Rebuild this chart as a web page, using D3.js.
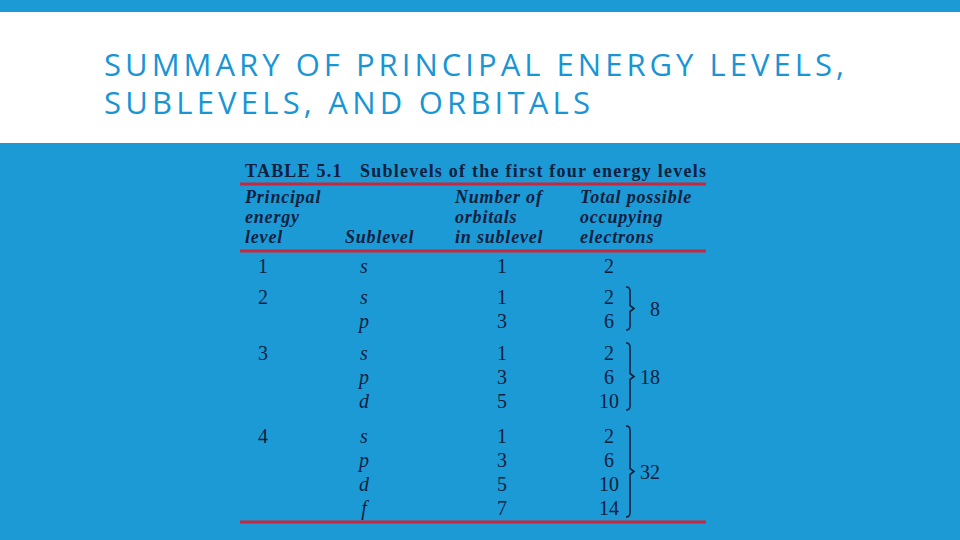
<!DOCTYPE html>
<html><head><meta charset="utf-8">
<script src="https://cdn.jsdelivr.net/npm/d3@7"></script>
<style>body{margin:0;background:#1b9ad6}</style>
</head><body>
<svg id="slide" width="960" height="540"></svg>
<script>
var levels = [1, 2, 3, 4],
	sublevels = [["s"], ["s", "p"], ["s", "p", "d"], ["s", "p", "d", "f"]],
	orbitals = [[1], [1, 3], [1, 3, 5], [1, 3, 5, 7]],
	electrons = [[2], [2, 6], [2, 6, 10], [2, 6, 10, 14]],
	totals = [null, 8, 18, 32],
	groupTop = [273, 304, 360, 443];

var svg = d3.select("#slide"),
	ink = "#12203f",
	serif = "'Liberation Serif', 'DejaVu Serif', serif";

svg.append("rect").attr("width", 960).attr("height", 540).attr("fill", "#1b9ad6");
svg.append("rect").attr("y", 12).attr("width", 960).attr("height", 131).attr("fill", "#fff");

var titleLen = [740, 486];
svg.selectAll(".title").data(["SUMMARY OF PRINCIPAL ENERGY LEVELS,", "SUBLEVELS, AND ORBITALS"])
	.enter().append("text")
	.attr("x", 104).attr("y", function(d, i) { return 76 + i * 38; })
	.attr("font-family", "'Open Sans', sans-serif").attr("font-size", 31)
	.attr("textLength", function(d, i) { return titleLen[i]; })
	.attr("lengthAdjust", "spacing")
	.attr("fill", "#1a95d4").text(function(d) { return d; });

svg.append("text").attr("x", 245).attr("y", 177)
	.attr("font-family", serif).attr("font-weight", "bold").attr("font-size", 18).attr("fill", ink)
	.attr("textLength", 461).attr("lengthAdjust", "spacing")
	.attr("xml:space", "preserve").text("TABLE 5.1   Sublevels of the first four energy levels");

[184, 251, 522].forEach(function(y) {
	svg.append("line").attr("x1", 240).attr("x2", 706).attr("y1", y).attr("y2", y)
		.attr("stroke", "#c8283c").attr("stroke-width", 3);
});

var headers = [
	{x: 245, lines: ["Principal", "energy", "level"]},
	{x: 345, lines: ["", "", "Sublevel"]},
	{x: 455, lines: ["Number of", "orbitals", "in sublevel"]},
	{x: 580, lines: ["Total possible", "occupying", "electrons"]}
];
headers.forEach(function(h) {
	h.lines.forEach(function(t, i) {
		svg.append("text").attr("x", h.x).attr("y", 203 + i * 20)
			.attr("font-family", serif).attr("font-style", "italic").attr("font-weight", "bold")
			.attr("font-size", 18).attr("letter-spacing", 0.8).attr("fill", ink).text(t);
	});
});

var row = d3.scaleLinear().domain([0, 1]).range([0, 24]);
var cell = function(x, y, t, italic) {
	svg.append("text").attr("x", x).attr("y", y).attr("text-anchor", "middle")
		.attr("font-family", serif).attr("font-size", 20).attr("fill", ink)
		.attr("font-style", italic ? "italic" : null).text(t);
};

levels.forEach(function(lv, g) {
	var y0 = groupTop[g];
	cell(263, y0, lv);
	sublevels[g].forEach(function(s, i) { cell(364, y0 + row(i), s, true); });
	orbitals[g].forEach(function(o, i) { cell(502, y0 + row(i), o); });
	electrons[g].forEach(function(e, i) { cell(609, y0 + row(i), e); });
	if (totals[g] !== null) {
		var yt = y0 - 17, yb = y0 + row(electrons[g].length - 1) + 2, ym = (yt + yb) / 2;
		svg.append("path")
			.attr("d", "M626," + yt + " q4,0 4,4 V" + (ym - 3) + " l4,3 l-4,3 V" + (yb - 4) + " q0,4 -4,4")
			.attr("fill", "none").attr("stroke", ink).attr("stroke-width", 1.6);
		svg.append("text").attr("x", g === 1 ? 650 : 640).attr("y", ym + 7)
			.attr("font-family", serif).attr("font-size", 20).attr("fill", ink).text(totals[g]);
	}
});
</script>
</body></html>
